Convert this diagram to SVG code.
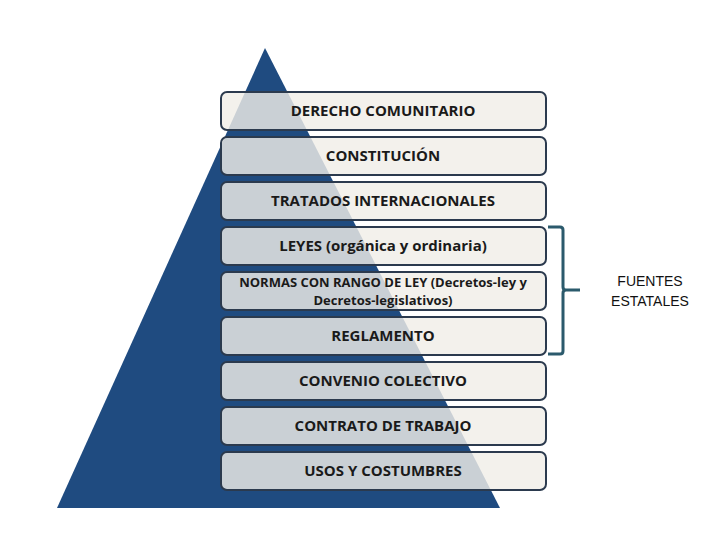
<svg xmlns="http://www.w3.org/2000/svg" width="720" height="540" viewBox="0 0 720 540">
<style>
.b{fill:#f0eee8;fill-opacity:0.82;stroke:#2b3a4e;stroke-width:2}
.t{font-family:"Open Sans","Liberation Sans",sans-serif;font-weight:bold;font-size:15px;fill:#1a1a1a;text-anchor:middle}
.s{font-size:13px}
.l{font-family:"Liberation Sans",sans-serif;font-size:14px;fill:#111;text-anchor:middle}
</style>
<rect width="720" height="540" fill="#fff"/>
<polygon points="265,48 57,508 500,508" fill="#1f4b80"/>
<g id="n1"><rect class="b" x="221" y="92" width="325" height="38" rx="6"/><text class="t" x="383" y="116">DERECHO COMUNITARIO</text></g>
<g id="n2"><rect class="b" x="221" y="137" width="325" height="38" rx="6"/><text class="t" x="383" y="161">CONSTITUCIÓN</text></g>
<g id="n3"><rect class="b" x="221" y="182" width="325" height="38" rx="6"/><text class="t" x="383" y="206">TRATADOS INTERNACIONALES</text></g>
<g id="n4"><rect class="b" x="221" y="227" width="325" height="38" rx="6"/><text class="t" x="383" y="251">LEYES (orgánica y ordinaria)</text></g>
<g id="n5"><rect class="b" x="221" y="272" width="325" height="38" rx="6"/><text class="t s" x="383" y="287">NORMAS CON RANGO DE LEY (Decretos-ley  y</text><text class="t s" x="383" y="305">Decretos-legislativos)</text></g>
<g id="n6"><rect class="b" x="221" y="317" width="325" height="38" rx="6"/><text class="t" x="383" y="341">REGLAMENTO</text></g>
<g id="n7"><rect class="b" x="221" y="362" width="325" height="38" rx="6"/><text class="t" x="383" y="386">CONVENIO COLECTIVO</text></g>
<g id="n8"><rect class="b" x="221" y="407" width="325" height="38" rx="6"/><text class="t" x="383" y="431">CONTRATO DE TRABAJO</text></g>
<g id="n9"><rect class="b" x="221" y="452" width="325" height="38" rx="6"/><text class="t" x="383" y="476">USOS Y COSTUMBRES</text></g>
<g id="connectors"><path d="M548,227 H560 Q563,227 563,230 V287 Q563,290 566,290 H580 M566,290 Q563,290 563,293 V351 Q563,354 560,354 H548" fill="none" stroke="#2b5a6c" stroke-width="3"/></g>
<g id="label"><text class="l" x="650" y="286">FUENTES</text><text class="l" x="650" y="306">ESTATALES</text></g>
</svg>
